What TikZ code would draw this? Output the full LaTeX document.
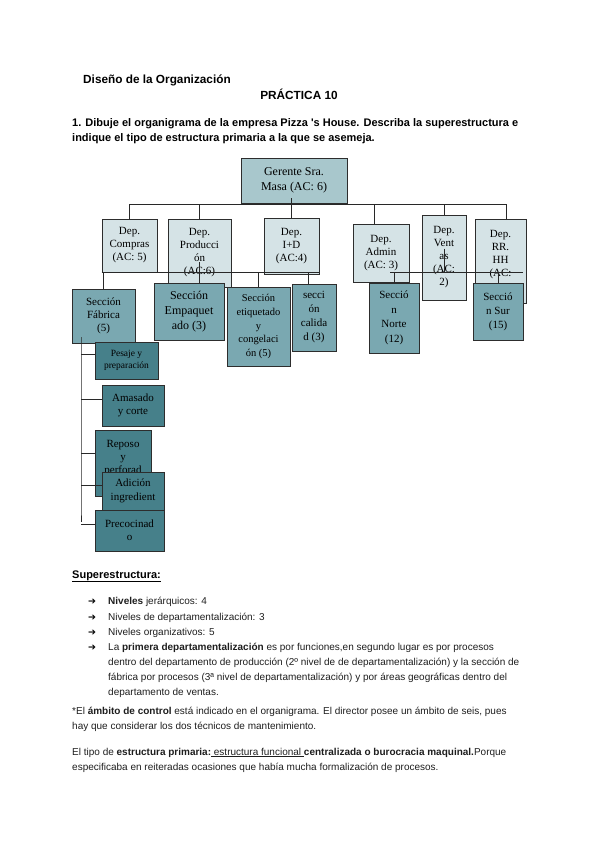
\documentclass[tikz,border=0pt]{standalone}
\usepackage{fontspec}
\setmainfont{Liberation Sans}
\newfontfamily\chartfont{Liberation Serif}
\newfontfamily\symfont{DejaVu Sans}
\usetikzlibrary{calc}

\begin{document}
\begin{tikzpicture}[x=1pt,y=1pt,yscale=-1,
    box/.style={draw={rgb,255:red,45;green,45;blue,45},line width=0.8pt,inner sep=0pt,align=center,font=\chartfont\fontsize{11}{13}\selectfont},
    jefe/.style={box,fill={rgb,255:red,168;green,199;blue,204}},
    dep/.style={box,fill={rgb,255:red,213;green,227;blue,230}},
    secc/.style={box,fill={rgb,255:red,122;green,168;blue,177}},
    tarea/.style={box,fill={rgb,255:red,70;green,128;blue,138}},
    link/.style={draw={rgb,255:red,40;green,40;blue,40},line width=0.7pt},
    txt/.style={anchor=base west,inner sep=0pt,align=left,text={rgb,255:red,30;green,30;blue,30},font=\fontsize{10}{15}\selectfont},
    flecha/.style={anchor=base,inner sep=0pt,font=\symfont\fontsize{9.5}{10}\selectfont}
]
    \useasboundingbox (0,0) rectangle (599,848);

    % Text Node
    \node[txt,text=black,font=\bfseries\fontsize{11.8}{13}\selectfont] (titulo) at (83,84) {Diseño de la Organización};
    % Text Node
    \node[anchor=base,inner sep=0pt,font=\bfseries\fontsize{11.8}{13}\selectfont] (practica) at (299,100) {PRÁCTICA 10};
    % Text Node (base = last line)
    \node[txt,text=black,font=\bfseries\fontsize{11}{16}\selectfont] (enunciado) at (72,142) {1. Dibuje el organigrama de la empresa Pizza \textquotesingle s House. Describa la superestructura e\\indique el tipo de estructura primaria a la que se asemeja.};

    %Shape: Rectangle -- direccion
    \node[jefe,minimum width=106,minimum height=45,font=\chartfont\fontsize{12}{15}\selectfont] (gerente) at (294,180.5) {Gerente Sra.\\Masa (AC: 6)};

    %Shape: Rectangle -- departamentos
    \node[dep,minimum width=55,minimum height=53] (compras) at (129.5,245.5) {Dep.\\Compras\\(AC: 5)};
    \node[dep,minimum width=63,minimum height=68] (produccion) at (199.5,253) {Dep.\\Producci\\ón\\(AC:6)};
    \node[dep,minimum width=55,minimum height=56] (imasd) at (291.5,246) {Dep.\\I+D\\(AC:4)};
    \node[dep,minimum width=56,minimum height=58] (admin) at (381,253) {Dep.\\Admin\\(AC: 3)};
    \node[dep,minimum width=44,minimum height=85] (ventas) at (444,257.5) {Dep.\\Vent\\as\\(AC:\\2)};
    \node[dep,minimum width=51,minimum height=84] (rrhh) at (500.5,261) {Dep.\\RR.\\HH\\(AC:\\\phantom{6)}};

    % conectores
    \coordinate (busA) at (0,204);
    \coordinate (busB) at (0,272);
    \coordinate (adminTop) at ($(admin.north)+(-7,0)$);
    \coordinate (rrhhTop) at ($(rrhh.north)+(6,0)$);
    \draw[link] (compras.north |- busA) -- (rrhhTop |- busA);
    \foreach \d in {compras,produccion,ventas,adminTop,rrhhTop}
        \draw[link] (\d |- busA) -- (\d);
    \draw[link] ($(gerente.south -| imasd.north)+(0,-5)$) -- (imasd.north);
    \draw[link] (compras.south west |- busB) -- (imasd.south east |- busB);
    \draw[link] ($(produccion.south)+(0,-25)$) -- (produccion.south |- busB);
    \draw[link] ($(ventas.center)+(0,-9)$) -- (ventas.center |- busB);

    %Shape: Rectangle -- secciones
    \node[secc,minimum width=63,minimum height=54] (fabrica) at (103.5,316) {Sección\\Fábrica\\(5)};
    \node[secc,minimum width=70,minimum height=57,font=\chartfont\fontsize{12}{15}\selectfont] (empaquetado) at (189,311.5) {Sección\\Empaquet\\ado (3)};
    \node[secc,minimum width=63,minimum height=79,font=\chartfont\fontsize{10.5}{13.7}\selectfont] (etiquetado) at (258.5,326.5) {Sección\\etiquetado\\y\\congelaci\\ón (5)};
    \node[secc,minimum width=44,minimum height=67,font=\chartfont\fontsize{11}{14}\selectfont] (calidad) at (314,317.5) {secci\\ón\\calida\\d (3)};
    \node[secc,minimum width=50,minimum height=70,font=\chartfont\fontsize{11}{14.5}\selectfont] (norte) at (394,318) {Secció\\n\\Norte\\(12)};
    \node[secc,minimum width=50,minimum height=57,font=\chartfont\fontsize{11}{14}\selectfont] (sur) at (498,311.5) {Secció\\n Sur\\(15)};

    \coordinate (calTop) at ($(calidad.north)+(-6,0)$);
    \draw[link] ($(norte.north |- busB)+(-4,0)$) -- (sur.north east |- busB);
    \draw[link] (fabrica.north |- busB) -- (fabrica.north);
    \draw[link] (produccion.south |- busB) -- (produccion.south |- empaquetado.north);
    \draw[link] (etiquetado.north |- busB) -- (etiquetado.north);
    \draw[link] (calTop |- busB) -- (calTop);
    \draw[link] (norte.north |- busB) -- (norte.north);
    \draw[link] (sur.north |- busB) -- (sur.north);

    %Shape: Rectangle -- tareas de fabrica
    \node[tarea,minimum width=63,minimum height=37,font=\chartfont\fontsize{9.5}{12}\selectfont] (pesaje) at (126.5,360.5) {Pesaje y\\preparación};
    \node[tarea,minimum width=62,minimum height=41] (amasado) at (133,405.5) {Amasado\\y corte};
    \node[tarea,minimum width=56,minimum height=66] (reposo) at (123,463) {Reposo\\y\\perforad\\\phantom{o}};
    \node[tarea,minimum width=62,minimum height=38,font=\chartfont\fontsize{11}{14}\selectfont] (adicion) at (133,491) {Adición\\ingredient};
    \node[tarea,minimum width=69,minimum height=41] (precocinado) at (129.5,530.5) {Precocinad\\o};

    \coordinate (spine) at (81,337);
    \draw[link] (spine) -- (spine |- precocinado.north) -- ++(0,12);
    \foreach \t in {pesaje,amasado,reposo,adicion,precocinado}{
        \coordinate (br) at ($(\t.north west)!0.35!(\t.south west)$);
        \draw[link] (br -| spine) -- (br);
    }

    % Text Node
    \node[txt,text=black,font=\bfseries\fontsize{11}{12}\selectfont] (superes) at (72,578) {\underline{Superestructura:}};
    \foreach \y/\n in {604/f1,620/f2,635/f3,650/f4}
        \node[flecha] (\n) at (92,\y) {➔};
    \node[txt] (niveles) at (108,604) {\textbf{Niveles} jerárquicos: 4};
    \node[txt] (depto) at (108,620) {Niveles de departamentalización: 3};
    \node[txt] (organiz) at (108,635) {Niveles organizativos: 5};
    \node[txt] (primera) at (108,695) {La \textbf{primera departamentalización} es por funciones,en segundo lugar es por procesos\\dentro del departamento de producción (2º nivel de de departamentalización) y la sección de\\fábrica por procesos (3ª nivel de departamentalización) y por áreas geográficas dentro del\\departamento de ventas.};
    % Text Node
    \node[txt] (ambito) at (72,729) {*El \textbf{ámbito de control} está indicado en el organigrama. El director posee un ámbito de seis, pues\\hay que considerar los dos técnicos de mantenimiento.};
    % Text Node
    \node[txt] (tipo) at (72,770) {El tipo de \textbf{estructura primaria:}\underline{\ estructura funcional\ }\textbf{centralizada o burocracia maquinal.}Porque\\especificaba en reiteradas ocasiones que había mucha formalización de procesos.};
\end{tikzpicture}
\end{document}
